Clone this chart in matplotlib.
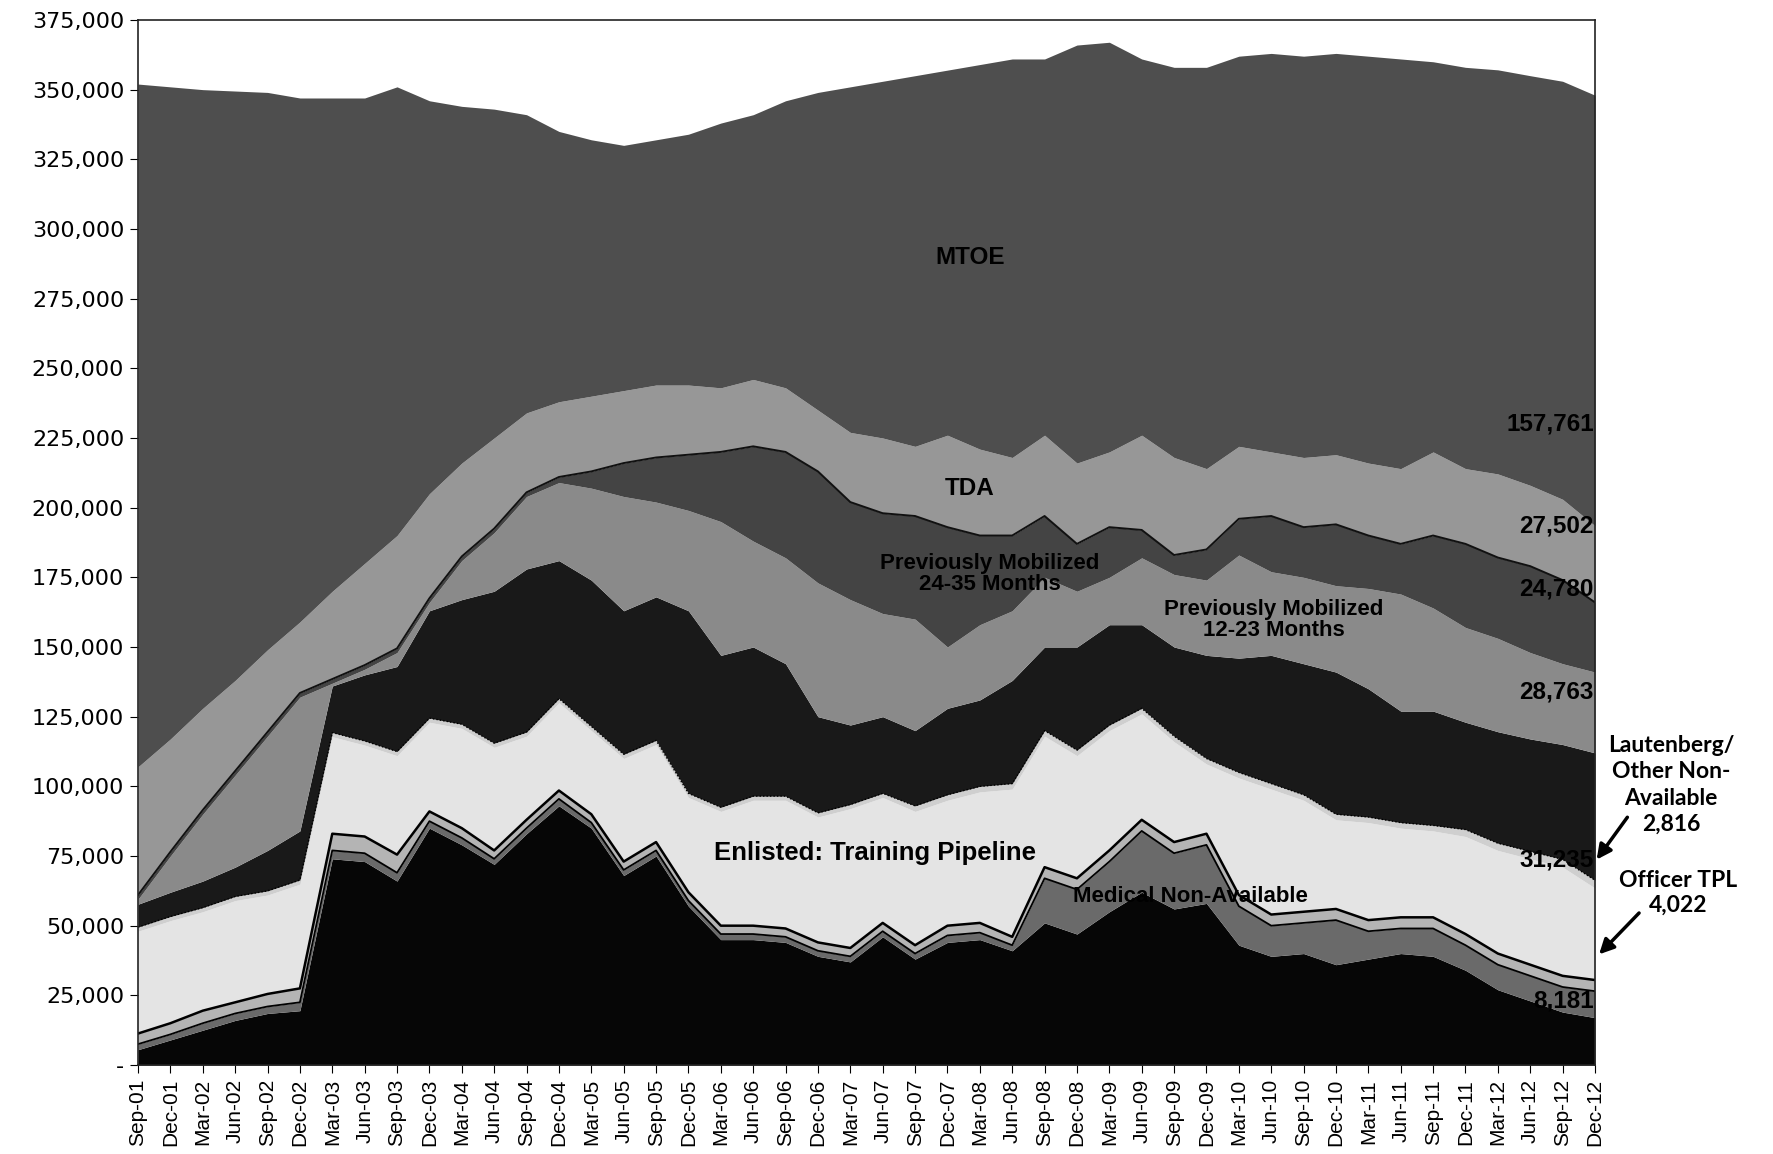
import numpy as np
import matplotlib
matplotlib.use("Agg")
import matplotlib.pyplot as plt
from matplotlib.ticker import FuncFormatter, FixedLocator

# ---------------- data (thousands of soldiers, quarterly readings) ----------------
quarter_labels = [
    "Sep-01", "Dec-01", "Mar-02", "Jun-02", "Sep-02", "Dec-02", "Mar-03", "Jun-03",
    "Sep-03", "Dec-03", "Mar-04", "Jun-04", "Sep-04", "Dec-04", "Mar-05", "Jun-05",
    "Sep-05", "Dec-05", "Mar-06", "Jun-06", "Sep-06", "Dec-06", "Mar-07", "Jun-07",
    "Sep-07", "Dec-07", "Mar-08", "Jun-08", "Sep-08", "Dec-08", "Mar-09", "Jun-09",
    "Sep-09", "Dec-09", "Mar-10", "Jun-10", "Sep-10", "Dec-10", "Mar-11", "Jun-11",
    "Sep-11", "Dec-11", "Mar-12", "Jun-12", "Sep-12", "Dec-12"]

mobilized = [5.5, 9, 12.5, 16, 18.5, 19.5, 74, 73, 66, 85, 79, 72, 83, 93, 85, 68, 75, 57,
             45, 45, 44, 39, 37, 46, 38, 44, 45, 41, 51, 47, 55, 62, 56, 58, 43, 39, 40, 36,
             38, 40, 39, 34, 27, 23, 19, 17]
medical = [2, 2, 2.5, 2.5, 2.5, 3, 3, 3, 3, 2.5, 2.5, 2, 2, 2.5, 2, 2, 2, 2, 2, 2, 2, 2, 2, 2,
           2, 2.5, 2.5, 2, 16, 16, 18, 22, 20, 21, 14, 11, 11, 16, 10, 9, 10, 9, 9, 9, 9, 9.5]
officer_tpl = [3.8, 4, 4.5, 4, 4.5, 5, 6, 6, 6.5, 3.5, 3.5, 3, 3, 3, 3, 3, 3, 3, 3, 3, 3, 3, 3, 3,
               3, 3.5, 3.5, 3, 4, 4, 4, 4, 4, 4, 4, 4, 4, 4, 4, 4, 4, 4, 4, 4, 4, 4.0]
training = [36.7, 36.8, 35.5, 36.5, 35.5, 37.4, 34.8, 32.8, 35.5, 32, 35.8, 37, 30,
            31.5, 30, 37, 35, 34, 41, 45, 46, 45, 50, 45,
            48, 45, 47, 53, 47, 44, 43, 38, 36, 25,
            42, 45, 40, 32, 35, 32, 31, 35, 37, 38, 39, 33]
lautenberg = [1.5] * 24 + [2.0] * 17 + [2.5, 2.6, 2.7, 2.8, 2.8]
black_band = [8.2, 8.7, 9.5, 10.5, 14.5, 17.6, 16.7, 23.7, 30.5, 38.5, 44.7, 54.5, 58.5,
              49.5, 52.5, 51.5, 51.5, 65.5, 54.5, 53.5, 47.5, 34.5, 28.5, 27.5,
              27, 31, 31, 37, 30, 37, 36, 30, 32, 37,
              41, 46, 47, 51, 46, 40, 41, 38.5, 40, 40.3, 41.2, 45.7]
prev_mob_12_23 = [1.8, 13, 24, 33, 41, 48, 1, 2, 5, 3, 14, 21, 26,
                  28, 33, 41, 34, 36, 48, 38, 38, 48, 45, 37,
                  40, 22, 27, 25, 25, 20, 17, 24, 26, 27,
                  37, 30, 31, 31, 36, 42, 37, 34, 33.5, 31, 29, 29]
prev_mob_24 = [1.5] * 13 + [2, 6, 12, 16, 20, 25, 34, 38, 40, 35, 36,
                            37, 43, 32, 27, 22, 17, 18, 10, 7, 11,
                            13, 20, 18, 22, 19, 18, 26, 30, 29, 31, 30, 25]
tda = [46, 40.5, 36.5, 32.5, 29.5, 25.5, 31.5, 36.5, 40.5, 37.5, 33.5, 32.5, 28.5,
       27, 27, 26, 26, 25, 23, 24, 23, 22, 25, 27,
       25, 33, 31, 28, 29, 29, 27, 34, 35, 29,
       26, 23, 25, 25, 26, 27, 30, 27, 30, 29, 29, 27.5]
mtoe = [245, 234, 222, 211.5, 200, 188, 177, 167, 161, 141, 128, 118, 107,
        97, 92, 88, 88, 90, 95, 95, 103, 114, 124, 128,
        133, 131, 138, 143, 135, 150, 147, 135, 140, 144,
        140, 143, 144, 144, 146, 147, 140, 144, 145, 147, 150, 154.5]

layer_names = ["Mobilized", "Medical Non-Available", "Officer TPL", "Enlisted: Training Pipeline",
               "Lautenberg/Other Non-Available", "Non-Available", "Previously Mobilized 12-23 Months",
               "Previously Mobilized 24-35 Months", "TDA", "MTOE"]
layer_values = [mobilized, medical, officer_tpl, training, lautenberg, black_band,
                prev_mob_12_23, prev_mob_24, tda, mtoe]
layer_colors = ["#060606", "#6a6a6a", "#b4b4b4", "#e4e4e4", "#cfcfcf", "#191919",
                "#8a8a8a", "#444444", "#979797", "#4e4e4e"]

end_labels = ["157,761", "27,502", "24,780", "28,763", "31,235", "8,181"]
end_label_y = [230, 193.5, 170.7, 133.7, 73.6, 22.8]

# ---------------- figure ----------------
plt.rcParams['font.family'] = ['Liberation Sans', 'DejaVu Sans']
fig = plt.figure(figsize=(17.74, 11.54), dpi=100)
ax = fig.add_axes([0.0778, 0.0771, 0.8213, 0.9056])

x = np.arange(len(quarter_labels)) * 3
cum = np.zeros(len(x))
tops = []
for vals, col, name in zip(layer_values, layer_colors, layer_names):
    v = np.array(vals, dtype=float) * 1000
    ax.fill_between(x, cum, cum + v, color=col, lw=0, label=name)
    cum = cum + v
    tops.append(cum.copy())

# outlines of thin bands
ax.plot(x, tops[1], color="black", lw=1.3)
ax.plot(x, tops[2], color="black", lw=1.8)
ax.plot(x, tops[4], color="black", lw=1.0, ls=(0, (1, 1.5)))
ax.plot(x, tops[7], color="#111111", lw=1.4)

ax.set_xlim(0, 135)
ax.set_ylim(0, 375000)
ax.xaxis.set_major_locator(FixedLocator(x))
ax.set_xticklabels(quarter_labels, rotation=90, fontsize=15)
ax.set_yticks(np.arange(0, 375001, 25000))
ax.yaxis.set_major_formatter(FuncFormatter(lambda v, p: "-" if v == 0 else f"{int(v):,}"))
ax.tick_params(axis="y", length=6, pad=4, direction="out")
ax.tick_params(axis="x", length=6, pad=4, direction="out")
for lab in ax.get_yticklabels():
    lab.set_fontfamily(["DejaVu Sans"])
    lab.set_fontsize(16)
for s in ax.spines.values():
    s.set_linewidth(1.2)
    s.set_color("#222222")

bold = dict(fontweight="bold", color="black", ha="center", va="center")
ax.text(77.1, 289600, "MTOE", fontsize=17.5, **bold)
ax.text(77.1, 206700, "TDA", fontsize=17.5, **bold)
ax.text(78.9, 176200, "Previously Mobilized\n24-35 Months", fontsize=16, linespacing=1.0, **bold)
ax.text(105.2, 159700, "Previously Mobilized\n12-23 Months", fontsize=16, linespacing=1.0, **bold)
ax.text(68.3, 76100, "Enlisted: Training Pipeline", fontsize=18.5, **bold)
ax.text(97.5, 60300, "Medical Non-Available", fontsize=16, **bold)
for lab, yv in zip(end_labels, end_label_y):
    ax.text(134.9, yv * 1000, lab, fontsize=17.5, fontweight="bold", ha="right", va="center")

side = dict(fontsize=16.5, fontweight="bold", ha="center", va="center", family=["Lato", "DejaVu Sans"])
fig.text(1671 / 1774, 1 - 785 / 1154, "Lautenberg/\nOther Non-\nAvailable\n2,816", linespacing=1.3, **side)
fig.text(1678 / 1774, 1 - 893 / 1154, "Officer TPL\n4,022", linespacing=1.2, **side)
ax.annotate("", xy=(135, 72900), xytext=(1629 / 1774, 1 - 815 / 1154), textcoords="figure fraction",
            arrowprops=dict(arrowstyle="-|>", lw=2.5, color="black", mutation_scale=22),
            annotation_clip=False)
ax.annotate("", xy=(135.2, 39000), xytext=(1641 / 1774, 1 - 911 / 1154), textcoords="figure fraction",
            arrowprops=dict(arrowstyle="-|>", lw=2.5, color="black", mutation_scale=22),
            annotation_clip=False)

fig.savefig("out.png", dpi=100)
